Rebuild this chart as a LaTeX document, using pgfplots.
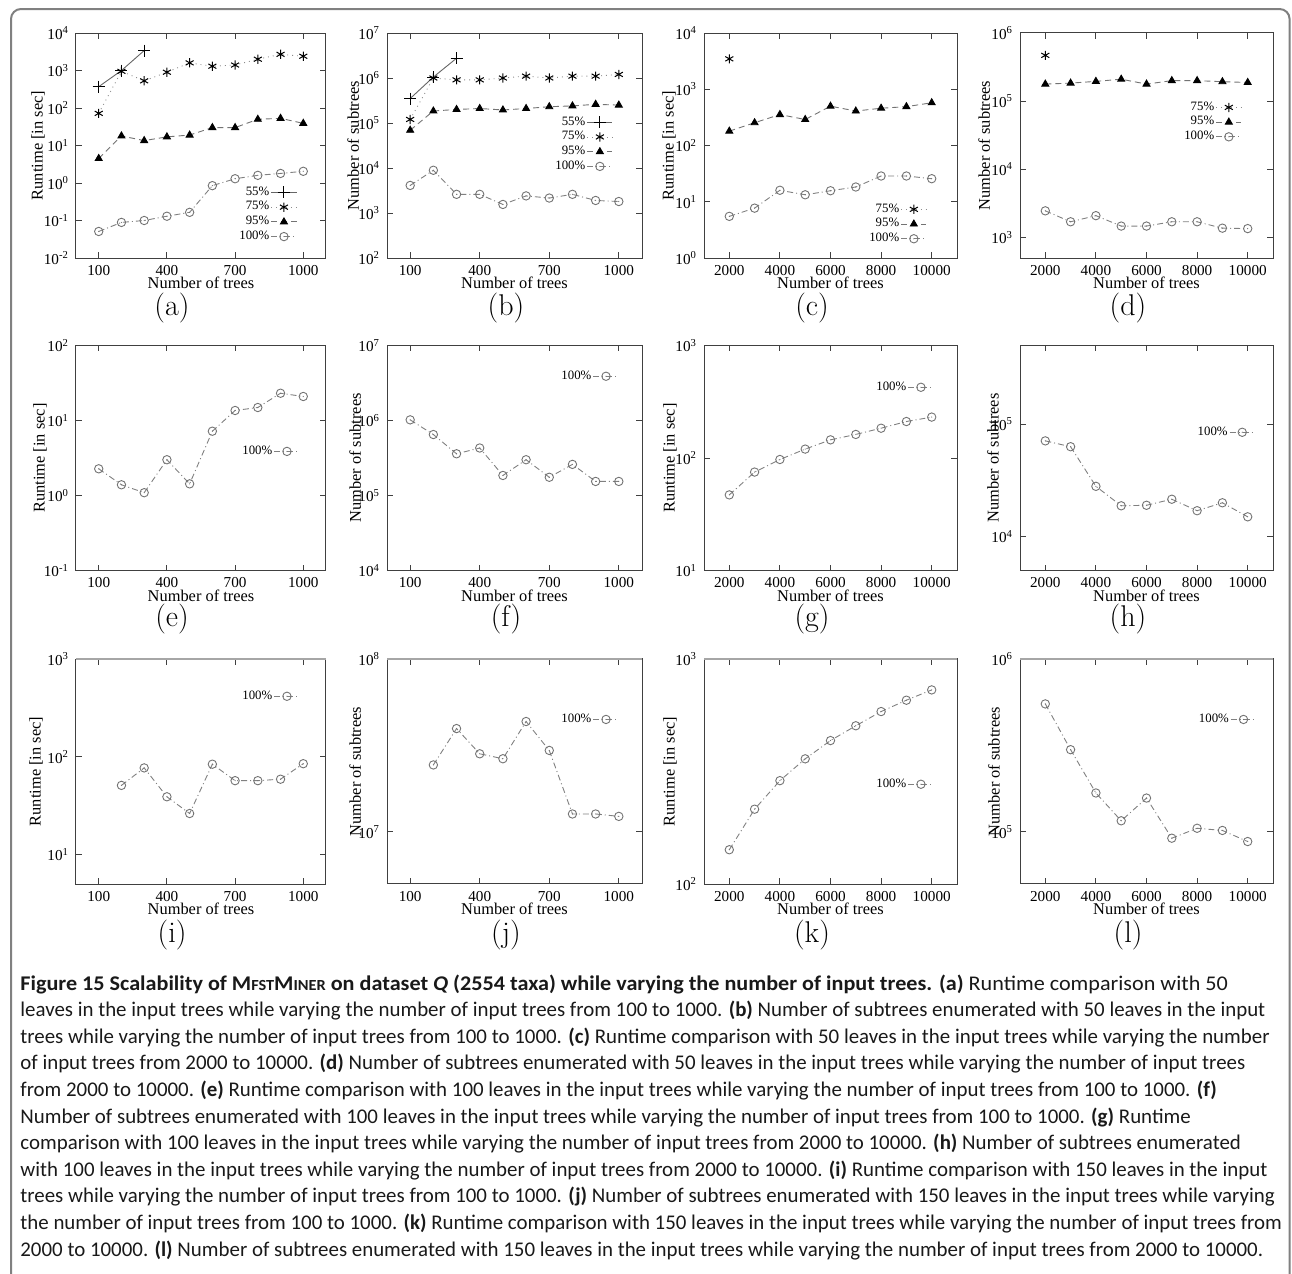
\documentclass[border=0pt]{standalone}
\usepackage{fontspec}
\usepackage{pgfplots}
\pgfplotsset{compat=1.18}

\newfontfamily\tnr{Liberation Serif}
\newfontfamily\capf{Carlito}
\newcommand\tkf{\tnr\fontsize{7.6}{8.5}\selectfont}
\newcommand\lbf{\tnr\fontsize{8.2}{9}\selectfont}
\newcommand\lgf{\tnr\fontsize{6.4}{7}\selectfont}

% circle with a dot in the middle (gnuplot style)
\pgfdeclareplotmark{odot}{%
  \pgfpathcircle{\pgfpointorigin}{\pgfplotmarksize}\pgfusepathqstroke
  \pgfpathcircle{\pgfpointorigin}{0.3pt}\pgfusepathqfill}

\pgfplotsset{
  mfpanel/.style={
    scale only axis, height=112.5pt,
    log basis y=10,
    axis line style={black!75, line width=0.5pt},
    tick style={black!75, line width=0.5pt},
    major tick length=2.8pt, minor tick length=1.6pt,
    tick label style={font=\tkf},
    label style={font=\lbf},
    scaled x ticks=false,
    /pgf/number format/assume math mode=true,
    /pgf/number format/1000 sep={},
    yticklabel={10\textsuperscript{\pgfmathparse{int(round(\tick))}\pgfmathresult}},
    xlabel={Number of trees},
    xlabel style={at={(axis description cs:0.5,0)}, anchor=center, yshift=-12.5pt},
    legend plot pos=right, legend cell align=right,
    legend style={draw=none, fill=none, font=\lgf, anchor=north east,
      inner sep=0pt, outer sep=0pt, row sep=0pt, nodes={inner sep=0.8pt}},
    legend image code/.code={%
      \draw[mark repeat=2,mark phase=2] plot coordinates {(0pt,0pt) (6.3pt,0pt) (12.6pt,0pt)};},
  },
  % bottom row: its top frame line is printed heavier and grey
  mftop/.style={extra description/.code={%
      \draw[black!35, line width=1.4pt] (axis description cs:0,1) -- (axis description cs:1,1);}},
  mfcolS/.style={xmin=0, xmax=1100, xtick={100,400,700,1000}},
  mfcolL/.style={xmin=1000, xmax=11000, xtick={2000,4000,6000,8000,10000}},
}
\tikzset{
  s55/.style={black!60, line width=0.45pt, solid, mark=+, mark size=3pt, mark options={black, solid, line width=0.5pt}},
  s75/.style={black!45, line width=0.45pt, dotted, mark=asterisk, mark size=2.3pt, mark options={black, solid, line width=0.5pt}},
  s95/.style={black!55, line width=0.45pt, dash pattern=on 3pt off 2pt, mark=triangle*, mark size=2pt, mark options={black, solid}},
  s100/.style={black!50, line width=0.45pt, dash pattern=on 3pt off 1.5pt on 0.5pt off 1.5pt, mark=odot, mark size=2.1pt, mark options={black!55, solid, line width=0.45pt}},
}

\begin{document}
\begin{tikzpicture}
\useasboundingbox (0pt,0pt) rectangle (646pt,-637pt);
\draw[black!50, line width=1pt, rounded corners=5pt] (5.5pt,-4.5pt) rectangle (644.8pt,-660pt);

% ---------- row 1 ----------
\begin{semilogyaxis}[mfpanel, mfcolS, at={(38pt,-129pt)}, anchor=south west, width=125pt,
  ymin=1e-2, ymax=1e4, ytick={1e-2,1e-1,1,10,100,1000,10000},
  ylabel={Runtime [in sec]}, ylabel style={at={(axis description cs:-0.152,0.5)}, anchor=center},
  legend style={at={(axis description cs:0.884,0.324)}}]
\addplot[s55] coordinates {(100,370)(200,1000)(300,3400)};
\addplot[s75] coordinates {(100,72)(200,950)(300,530)(400,900)(500,1600)(600,1300)(700,1400)(800,2000)(900,2700)(1000,2400)};
\addplot[s95] coordinates {(100,4.5)(200,18)(300,13.5)(400,17)(500,19)(600,30)(700,30)(800,50)(900,53)(1000,39)};
\addplot[s100] coordinates {(100,0.051)(200,0.089)(300,0.10)(400,0.13)(500,0.165)(600,0.85)(700,1.3)(800,1.6)(900,1.8)(1000,2.05)};
\legend{55\%,75\%,95\%,100\%}
\end{semilogyaxis}

\begin{semilogyaxis}[mfpanel, mfcolS, at={(193.5pt,-129pt)}, anchor=south west, width=127.5pt,
  ymin=1e2, ymax=1e7, ytick={1e2,1e3,1e4,1e5,1e6,1e7},
  ylabel={Number of subtrees}, ylabel style={at={(axis description cs:-0.133,0.5)}, anchor=center},
  legend style={at={(axis description cs:0.886,0.636)}}]
\addplot[s55] coordinates {(100,3.5e5)(200,1.05e6)(300,2.75e6)};
\addplot[s75] coordinates {(100,1.2e5)(200,1.0e6)(300,9.1e5)(400,9.1e5)(500,1.0e6)(600,1.1e6)(700,1.0e6)(800,1.1e6)(900,1.1e6)(1000,1.2e6)};
\addplot[s95] coordinates {(100,6.9e4)(200,1.85e5)(300,2.0e5)(400,2.1e5)(500,1.95e5)(600,2.1e5)(700,2.3e5)(800,2.4e5)(900,2.6e5)(1000,2.5e5)};
\addplot[s100] coordinates {(100,4100)(200,8900)(300,2600)(400,2600)(500,1550)(600,2400)(700,2150)(800,2600)(900,1900)(1000,1800)};
\legend{55\%,75\%,95\%,100\%}
\end{semilogyaxis}

\begin{semilogyaxis}[mfpanel, mfcolL, at={(352pt,-129pt)}, anchor=south west, width=126.5pt,
  ymin=1, ymax=1e4, ytick={1,10,100,1000,10000},
  ylabel={Runtime [in sec]}, ylabel style={at={(axis description cs:-0.138,0.5)}, anchor=center},
  legend style={at={(axis description cs:0.881,0.249)}}]
\addplot[s75] coordinates {(2000,3470)};
\addplot[s95] coordinates {(2000,180)(3000,254)(4000,355)(5000,290)(6000,500)(7000,410)(8000,460)(9000,490)(10000,575)};
\addplot[s100] coordinates {(2000,5.5)(3000,7.7)(4000,16)(5000,13.3)(6000,15.7)(7000,18.3)(8000,28.7)(9000,28.7)(10000,25.7)};
\legend{75\%,95\%,100\%}
\end{semilogyaxis}

\begin{semilogyaxis}[mfpanel, mfcolL, at={(510pt,-129pt)}, anchor=south west, width=126.5pt,
  ymin=500, ymax=1e6, ytick={1e3,1e4,1e5,1e6},
  ylabel={Number of subtrees}, ylabel style={at={(axis description cs:-0.142,0.5)}, anchor=center},
  legend style={at={(axis description cs:0.877,0.702)}}]
\addplot[s75] coordinates {(2000,4.7e5)};
\addplot[s95] coordinates {(2000,1.78e5)(3000,1.84e5)(4000,1.95e5)(5000,2.1e5)(6000,1.78e5)(7000,2.0e5)(8000,2.0e5)(9000,1.93e5)(10000,1.88e5)};
\addplot[s100] coordinates {(2000,2460)(3000,1700)(4000,2090)(5000,1470)(6000,1470)(7000,1700)(8000,1700)(9000,1370)(10000,1350)};
\legend{75\%,95\%,100\%}
\end{semilogyaxis}

% ---------- row 2 ----------
\begin{semilogyaxis}[mfpanel, mfcolS, at={(38pt,-285.25pt)}, anchor=south west, width=125pt,
  ymin=0.1, ymax=100, ytick={0.1,1,10,100},
  ylabel={Runtime [in sec]}, ylabel style={at={(axis description cs:-0.144,0.5)}, anchor=center},
  legend style={at={(axis description cs:0.896,0.562)}}]
\addplot[s100] coordinates {(100,2.27)(200,1.39)(300,1.09)(400,3.0)(500,1.43)(600,7.2)(700,13.6)(800,14.9)(900,23.1)(1000,20.9)};
\legend{100\%}
\end{semilogyaxis}

\begin{semilogyaxis}[mfpanel, mfcolS, at={(193.5pt,-285.25pt)}, anchor=south west, width=127.5pt,
  ymin=1e4, ymax=1e7, ytick={1e4,1e5,1e6,1e7},
  ylabel={Number of subtrees}, ylabel style={at={(axis description cs:-0.125,0.5)}, anchor=center},
  legend style={at={(axis description cs:0.91,0.896)}}]
\addplot[s100] coordinates {(100,1.02e6)(200,6.5e5)(300,3.6e5)(400,4.3e5)(500,1.85e5)(600,3.0e5)(700,1.75e5)(800,2.6e5)(900,1.54e5)(1000,1.54e5)};
\legend{100\%}
\end{semilogyaxis}

\begin{semilogyaxis}[mfpanel, mfcolL, at={(352pt,-285.25pt)}, anchor=south west, width=126.5pt,
  ymin=10, ymax=1000, ytick={10,100,1000},
  ylabel={Runtime [in sec]}, ylabel style={at={(axis description cs:-0.134,0.5)}, anchor=center},
  legend style={at={(axis description cs:0.909,0.847)}}]
\addplot[s100] coordinates {(2000,47)(3000,75)(4000,97)(5000,120)(6000,145)(7000,162)(8000,184)(9000,211)(10000,231)};
\legend{100\%}
\end{semilogyaxis}

\begin{semilogyaxis}[mfpanel, mfcolL, at={(510pt,-285.25pt)}, anchor=south west, width=126.5pt,
  ymin=5000, ymax=5e5, ytick={1e4,1e5},
  ylabel={Number of subtrees}, ylabel style={at={(axis description cs:-0.107,0.5)}, anchor=center},
  legend style={at={(axis description cs:0.93,0.647)}}]
\addplot[s100] coordinates {(2000,7.1e4)(3000,6.3e4)(4000,2.8e4)(5000,1.88e4)(6000,1.9e4)(7000,2.15e4)(8000,1.7e4)(9000,2.0e4)(10000,1.5e4)};
\legend{100\%}
\end{semilogyaxis}

% ---------- row 3 ----------
\begin{semilogyaxis}[mfpanel, mftop, mfcolS, at={(38pt,-442pt)}, anchor=south west, width=125pt,
  ymin=5, ymax=1000, ytick={10,100,1000},
  ylabel={Runtime [in sec]}, ylabel style={at={(axis description cs:-0.16,0.5)}, anchor=center},
  legend style={at={(axis description cs:0.896,0.867)}}]
\addplot[s100] coordinates {(200,51)(300,77)(400,39)(500,26.3)(600,84)(700,57)(800,57)(900,59)(1000,85)};
\legend{100\%}
\end{semilogyaxis}

\begin{semilogyaxis}[mfpanel, mftop, mfcolS, at={(193.5pt,-442pt)}, anchor=south west, width=127.5pt,
  ymin=5e6, ymax=1e8, ytick={1e7,1e8},
  ylabel={Number of subtrees}, ylabel style={at={(axis description cs:-0.125,0.5)}, anchor=center},
  legend style={at={(axis description cs:0.91,0.764)}}]
\addplot[s100] coordinates {(200,2.44e7)(300,3.96e7)(400,2.83e7)(500,2.65e7)(600,4.35e7)(700,2.96e7)(800,1.27e7)(900,1.27e7)(1000,1.23e7)};
\legend{100\%}
\end{semilogyaxis}

\begin{semilogyaxis}[mfpanel, mftop, mfcolL, at={(352pt,-442pt)}, anchor=south west, width=126.5pt,
  ymin=100, ymax=1000, ytick={100,1000},
  ylabel={Runtime [in sec]}, ylabel style={at={(axis description cs:-0.134,0.5)}, anchor=center},
  legend style={at={(axis description cs:0.909,0.476)}}]
\addplot[s100] coordinates {(2000,142)(3000,215)(4000,288)(5000,360)(6000,434)(7000,505)(8000,584)(9000,656)(10000,729)};
\legend{100\%}
\end{semilogyaxis}

\begin{semilogyaxis}[mfpanel, mftop, mfcolL, at={(510pt,-442pt)}, anchor=south west, width=126.5pt,
  ymin=5e4, ymax=1e6, ytick={1e5,1e6},
  ylabel={Number of subtrees}, ylabel style={at={(axis description cs:-0.103,0.5)}, anchor=center},
  legend style={at={(axis description cs:0.935,0.764)}}]
\addplot[s100] coordinates {(2000,5.5e5)(3000,2.99e5)(4000,1.68e5)(5000,1.16e5)(6000,1.57e5)(7000,9.2e4)(8000,1.05e5)(9000,1.02e5)(10000,8.8e4)};
\legend{100\%}
\end{semilogyaxis}

% ---------- panel letters ----------
\begin{scope}[every node/.style={font=\fontsize{15}{18}\selectfont, anchor=center}]
\node at (86pt,-154pt) {(a)};   \node at (253pt,-154pt) {(b)};
\node at (406pt,-154pt) {(c)};  \node at (564pt,-154pt) {(d)};
\node at (86pt,-309.5pt) {(e)}; \node at (253pt,-309.5pt) {(f)};
\node at (406pt,-309.5pt) {(g)};\node at (564pt,-309.5pt) {(h)};
\node at (86pt,-467.5pt) {(i)}; \node at (253pt,-467.5pt) {(j)};
\node at (406pt,-467.5pt) {(k)};\node at (564pt,-467.5pt) {(l)};
\end{scope}

% ---------- caption ----------
\newcommand\sm[1]{{\fontsize{7.7}{8}\selectfont #1}}
\begin{scope}[every node/.style={anchor=base west, inner sep=0pt, font=\capf\fontsize{10.45}{12}\selectfont, text=black!90}]
\node at (10pt,-495pt) {\scalebox{1.06}[1]{\bfseries Figure 15 Scalability of M\sm{FST}M\sm{INER} on dataset \itshape Q\upshape\ (2554 taxa) while varying the number of input trees. (a)\mdseries\ Runtime comparison with 50}};
\node at (10pt,-508.3pt) {leaves in the input trees while varying the number of input trees from 100 to 1000. \textbf{(b)} Number of subtrees enumerated with 50 leaves in the input};
\node at (10pt,-521.6pt) {trees while varying the number of input trees from 100 to 1000. \textbf{(c)} Runtime comparison with 50 leaves in the input trees while varying the number};
\node at (10pt,-534.9pt) {of input trees from 2000 to 10000. \textbf{(d)} Number of subtrees enumerated with 50 leaves in the input trees while varying the number of input trees};
\node at (10pt,-548.2pt) {from 2000 to 10000. \textbf{(e)} Runtime comparison with 100 leaves in the input trees while varying the number of input trees from 100 to 1000. \textbf{(f)}};
\node at (10pt,-561.5pt) {Number of subtrees enumerated with 100 leaves in the input trees while varying the number of input trees from 100 to 1000. \textbf{(g)} Runtime};
\node at (10pt,-574.8pt) {comparison with 100 leaves in the input trees while varying the number of input trees from 2000 to 10000. \textbf{(h)} Number of subtrees enumerated};
\node at (10pt,-588.1pt) {with 100 leaves in the input trees while varying the number of input trees from 2000 to 10000. \textbf{(i)} Runtime comparison with 150 leaves in the input};
\node at (10pt,-601.4pt) {trees while varying the number of input trees from 100 to 1000. \textbf{(j)} Number of subtrees enumerated with 150 leaves in the input trees while varying};
\node at (10pt,-614.7pt) {the number of input trees from 100 to 1000. \textbf{(k)} Runtime comparison with 150 leaves in the input trees while varying the number of input trees from};
\node at (10pt,-628pt) {2000 to 10000. \textbf{(l)} Number of subtrees enumerated with 150 leaves in the input trees while varying the number of input trees from 2000 to 10000.};
\end{scope}
\end{tikzpicture}
\end{document}
